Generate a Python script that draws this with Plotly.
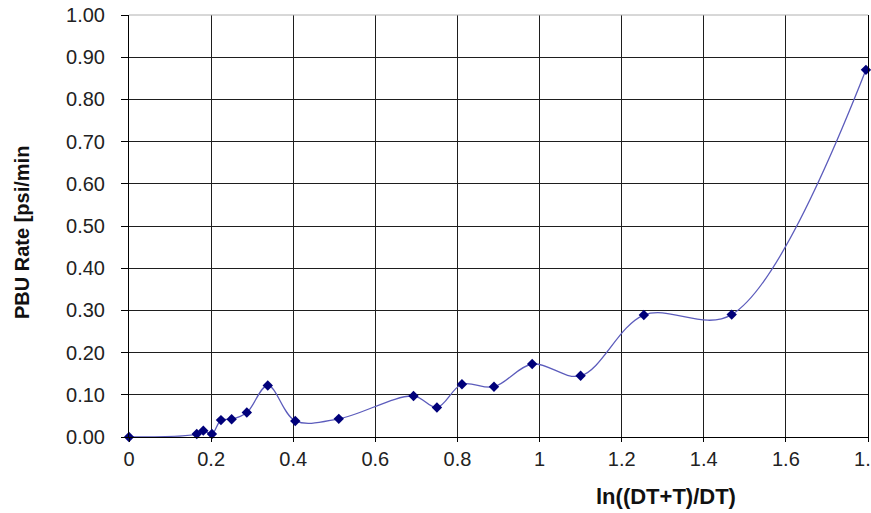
import plotly.graph_objects as go

# Pressure build-up rate versus Horner time function
horner_x = [0.0, 0.165, 0.181, 0.202, 0.224, 0.250, 0.287, 0.338, 0.405,
            0.511, 0.693, 0.750, 0.811, 0.889, 0.982, 1.100, 1.254, 1.468, 1.795]
pbu_rate = [0.000, 0.007, 0.015, 0.007, 0.040, 0.042, 0.058, 0.122, 0.038,
            0.043, 0.097, 0.070, 0.125, 0.119, 0.173, 0.145, 0.289, 0.290, 0.870]

x_ticks = [0, 0.2, 0.4, 0.6, 0.8, 1.0, 1.2, 1.4, 1.6, 1.8]
x_tick_text = ["0", "0.2", "0.4", "0.6", "0.8", "1", "1.2", "1.4", "1.6", "1.8"]
y_ticks = [0.0, 0.1, 0.2, 0.3, 0.4, 0.5, 0.6, 0.7, 0.8, 0.9, 1.0]

FONT = "Liberation Sans, Arial, sans-serif"
GRID = "#1e1e1e"

fig = go.Figure()
fig.add_trace(go.Scatter(
    x=horner_x, y=pbu_rate,
    mode="lines+markers",
    line=dict(color="#5c5cbc", width=1.3, shape="spline", smoothing=1.0),
    marker=dict(symbol="diamond", size=8, color="#00007a",
                line=dict(width=0)),
    cliponaxis=False,
    showlegend=False,
))

fig.update_layout(
    width=871, height=513,
    margin=dict(l=129, r=3, t=15, b=76, autoexpand=False),
    paper_bgcolor="white", plot_bgcolor="white",
    font=dict(family=FONT, size=20, color="#222222"),
    xaxis=dict(
        range=[0, 1.8], tickvals=x_ticks, ticktext=x_tick_text,
        showgrid=True, gridcolor=GRID, gridwidth=1,
        zeroline=False, showline=True, linecolor="black", linewidth=1,
        ticks="outside", ticklen=4, tickcolor="black",
        ticklabeloverflow="allow", automargin=False,
    ),
    yaxis=dict(
        range=[0, 1.0], tickvals=y_ticks, tickformat=".2f",
        showgrid=True, gridcolor=GRID, gridwidth=1,
        zeroline=False, showline=True, mirror=True,
        linecolor="black", linewidth=1,
        ticks="outside", ticklen=7, tickcolor="black",
        ticklabelstandoff=12, automargin=False,
    ),
    annotations=[
        dict(text="<b>ln((DT+T)/DT)</b>", xref="paper", yref="paper",
             x=(666 - 129) / 739, y=-(496 - 437) / 422,
             xanchor="center", yanchor="middle", showarrow=False,
             font=dict(family=FONT, size=22, color="#111111")),
        dict(text="<b>PBU Rate [psi/min</b>", xref="paper", yref="paper",
             x=-(129 - 22) / 739, y=(437 - 233) / 422, textangle=-90,
             xanchor="center", yanchor="middle", showarrow=False,
             font=dict(family=FONT, size=20, color="#111111")),
    ],
)

# light frame along the top of the plotting area
fig.add_shape(type="line", xref="paper", yref="paper", x0=0, x1=1, y0=1, y1=1,
              line=dict(color="#b0b0b0", width=1))

fig.write_html("out.html")
